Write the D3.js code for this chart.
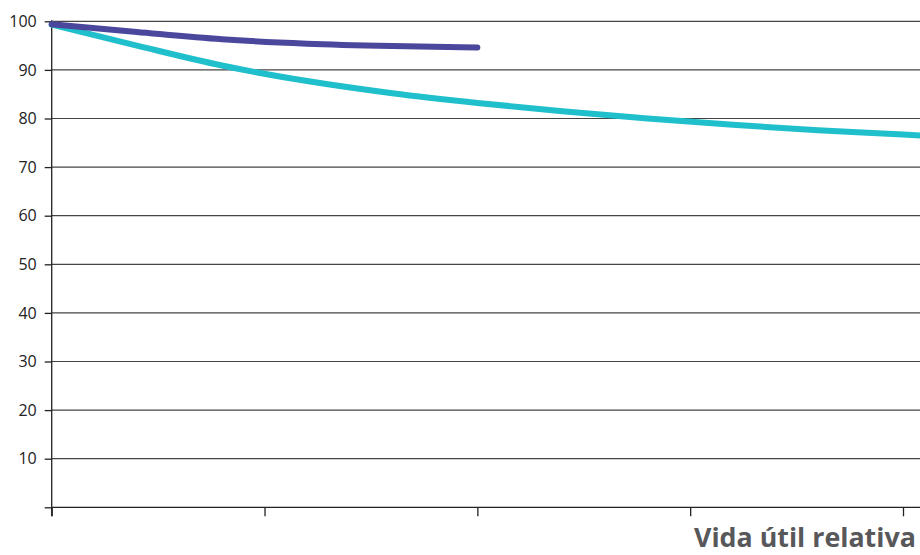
<!DOCTYPE html>
<html>
<head>
<meta charset="utf-8">
<script src="https://cdn.jsdelivr.net/npm/d3@7"></script>
<style>
  body { margin: 0; background: #fff; }
  svg { display: block; }
</style>
</head>
<body>
<svg id="chart" width="920" height="555"></svg>
<script>
"use strict";

// vida útil relativa (%) – posição no eixo x
var purpleX = [0, 10, 20, 30, 40, 50];
var purpleY = [99.4, 97.8, 96.3, 95.4, 94.9, 94.6];

var tealX = [0, 10, 20, 30, 40, 50, 60, 70, 80, 90, 100, 103];
var tealY = [99.3, 95.0, 90.9, 87.7, 85.2, 83.2, 81.5, 80.0, 78.7, 77.6, 76.7, 76.4];

var yTicks = [0, 10, 20, 30, 40, 50, 60, 70, 80, 90, 100];
var xTicks = [0, 25, 50, 75, 100];
var xTitle = "Vida útil relativa";

var svg = d3.select("#chart");

var x = d3.scaleLinear().domain([0, 100]).range([51.7, 903]);
var y = d3.scaleLinear().domain([0, 100]).range([507.3, 21.3]);

// linhas de grade
svg.append("g")
  .selectAll("line")
  .data(yTicks.filter(function(d) { return d > 0; }))
  .enter()
  .append("line")
    .attr("x1", x(0))
    .attr("x2", 920)
    .attr("y1", function(d) { return y(d); })
    .attr("y2", function(d) { return y(d); })
    .attr("stroke", "#444")
    .attr("stroke-width", 1.2);

// eixo y
var yAxis = svg.append("g")
  .attr("transform", "translate(" + x(0) + ",0)")
  .call(d3.axisLeft(y)
    .tickValues(yTicks)
    .tickSize(7)
    .tickPadding(8)
    .tickFormat(function(d) { return d === 0 ? "" : d; }));
yAxis.select(".domain").remove();
yAxis.append("line")
  .attr("y1", y(100) - 1)
  .attr("y2", y(0) + 9)
  .attr("stroke", "#222")
  .attr("stroke-width", 1.3);
yAxis.selectAll(".tick line").attr("stroke", "#222").attr("stroke-width", 1.3);
yAxis.selectAll(".tick text")
  .attr("fill", "#222")
  .style("font-family", "'Open Sans', sans-serif")
  .style("font-size", "16px");

// eixo x
var xAxis = svg.append("g")
  .attr("transform", "translate(0," + y(0) + ")")
  .call(d3.axisBottom(x)
    .tickValues(xTicks)
    .tickSize(9)
    .tickFormat(""));
xAxis.select(".domain").remove();
xAxis.append("line")
  .attr("x1", x(0))
  .attr("x2", 920)
  .attr("stroke", "#222")
  .attr("stroke-width", 1.3);
xAxis.selectAll(".tick line").attr("stroke", "#222").attr("stroke-width", 1.3);

var line = d3.line()
  .x(function(d) { return x(d[0]); })
  .y(function(d) { return y(d[1]); })
  .curve(d3.curveMonotoneX);

svg.append("path")
  .datum(d3.zip(tealX, tealY))
  .attr("d", line)
  .attr("fill", "none")
  .attr("stroke", "#1fbfcc")
  .attr("stroke-width", 6)
  .attr("stroke-linecap", "round");

svg.append("path")
  .datum(d3.zip(purpleX, purpleY))
  .attr("d", line)
  .attr("fill", "none")
  .attr("stroke", "#4b479c")
  .attr("stroke-width", 6)
  .attr("stroke-linecap", "round");

// título do eixo x, ajustado para caber entre 694 e a borda direita
var title = svg.append("text")
  .attr("x", 694)
  .attr("y", 547)
  .attr("fill", "#58585a")
  .style("font-family", "'Open Sans', sans-serif")
  .style("font-weight", "bold")
  .style("font-size", "28px")
  .text(xTitle);
var w = title.node().getComputedTextLength();
if (w > 222) {
  title.style("font-size", (28 * 222 / w).toFixed(2) + "px");
}
</script>
</body>
</html>
